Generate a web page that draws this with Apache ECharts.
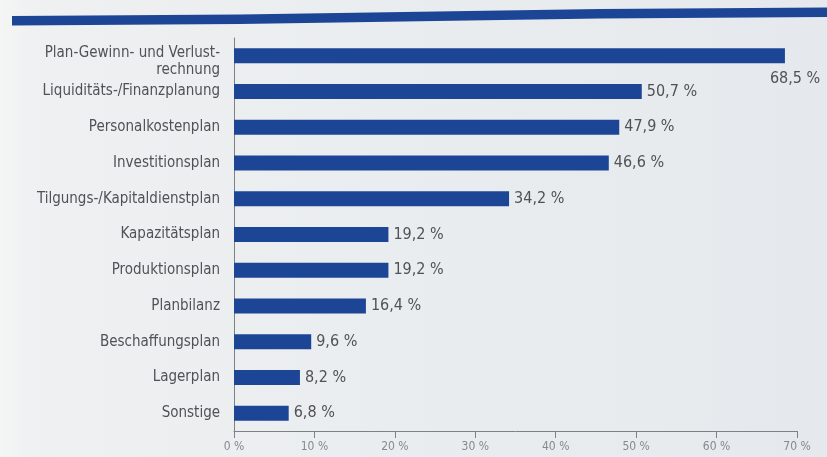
<!DOCTYPE html>
<html>
<head>
<meta charset="utf-8">
<script src="https://cdn.jsdelivr.net/npm/echarts@6/dist/echarts.min.js"></script>
<style>
  html, body { margin: 0; padding: 0; }
  #chart { width: 827px; height: 457px; }
</style>
</head>
<body>
<div id="chart"></div>
<script>
// Planning instruments in use (share of companies, %)
const categories = [
  'Plan-Gewinn- und Verlust-\nrechnung',
  'Liquiditäts-/Finanzplanung',
  'Personalkostenplan',
  'Investitionsplan',
  'Tilgungs-/Kapitaldienstplan',
  'Kapazitätsplan',
  'Produktionsplan',
  'Planbilanz',
  'Beschaffungsplan',
  'Lagerplan',
  'Sonstige'
];
const shares = [68.5, 50.7, 47.9, 46.6, 34.2, 19.2, 19.2, 16.4, 9.6, 8.2, 6.8];
const axisTicks = [0, 10, 20, 30, 40, 50, 60, 70];

const BLUE = '#1d4596';
const LABEL_GRAY = '#4f5256';
const FONT = '"Liberation Sans Narrow", "DejaVu Sans Condensed", "Open Sans", sans-serif';

const fmtPct = v => v.toFixed(1).replace('.', ',') + ' %';

// Two-line category names sit a little lower than the bar centre:
// a small spacer line on top pushes the block down.
const fmtCategory = v => v.indexOf('\n') >= 0
  ? '{sp| }\n' + v.split('\n').map(s => '{ln|' + s + '}').join('\n')
  : v;

const chart = echarts.init(document.getElementById('chart'));

// The longest bar carries its value label below its end.
const barData = shares.map((v, i) => i === 0
  ? { value: v, label: { offset: [-20, 23] } }
  : v);

chart.setOption({
  backgroundColor: {
    type: 'linear', x: 0, y: 0, x2: 1, y2: 0,
    colorStops: [
      { offset: 0, color: '#f4f5f5' },
      { offset: 0.05, color: '#eef0f1' },
      { offset: 1, color: '#e5e9ed' }
    ]
  },
  animation: false,
  textStyle: { fontFamily: FONT },
  graphic: [{
    type: 'polygon',
    shape: { points: [[12, 16], [240, 14.5], [600, 9], [827, 7.5], [827, 17], [600, 18.5], [240, 24], [12, 25.5]] },
    style: { fill: BLUE }
  }],
  grid: { left: 234, right: 30, top: 38, bottom: 26 },
  xAxis: {
    type: 'value',
    min: axisTicks[0],
    max: axisTicks[axisTicks.length - 1],
    interval: axisTicks[1] - axisTicks[0],
    splitLine: { show: false },
    axisLine: { show: true, lineStyle: { color: '#7d8186', width: 1 } },
    axisTick: { show: true, length: 7, lineStyle: { color: '#7d8186' } },
    axisLabel: {
      formatter: v => v + ' %',
      color: '#85898d',
      fontSize: 12,
      margin: 10,
      fontFamily: FONT
    }
  },
  yAxis: {
    type: 'category',
    inverse: true,
    data: categories,
    offset: 2,
    axisLine: { show: true, lineStyle: { color: '#7d8186', width: 1 } },
    axisTick: { show: false },
    axisLabel: {
      color: LABEL_GRAY,
      fontSize: 15,
      margin: 12,
      align: 'right',
      fontFamily: FONT,
      formatter: fmtCategory,
      rich: {
        sp: { fontSize: 11, lineHeight: 11, height: 11 },
        ln: { color: LABEL_GRAY, fontSize: 15, lineHeight: 17, fontFamily: FONT, align: 'right' }
      }
    }
  },
  series: [{
    type: 'bar',
    data: barData,
    barWidth: 15,
    itemStyle: { color: BLUE },
    label: {
      show: true,
      position: 'right',
      distance: 5,
      formatter: p => fmtPct(p.value),
      color: LABEL_GRAY,
      fontSize: 16,
      fontFamily: FONT
    }
  }]
});
</script>
</body>
</html>
